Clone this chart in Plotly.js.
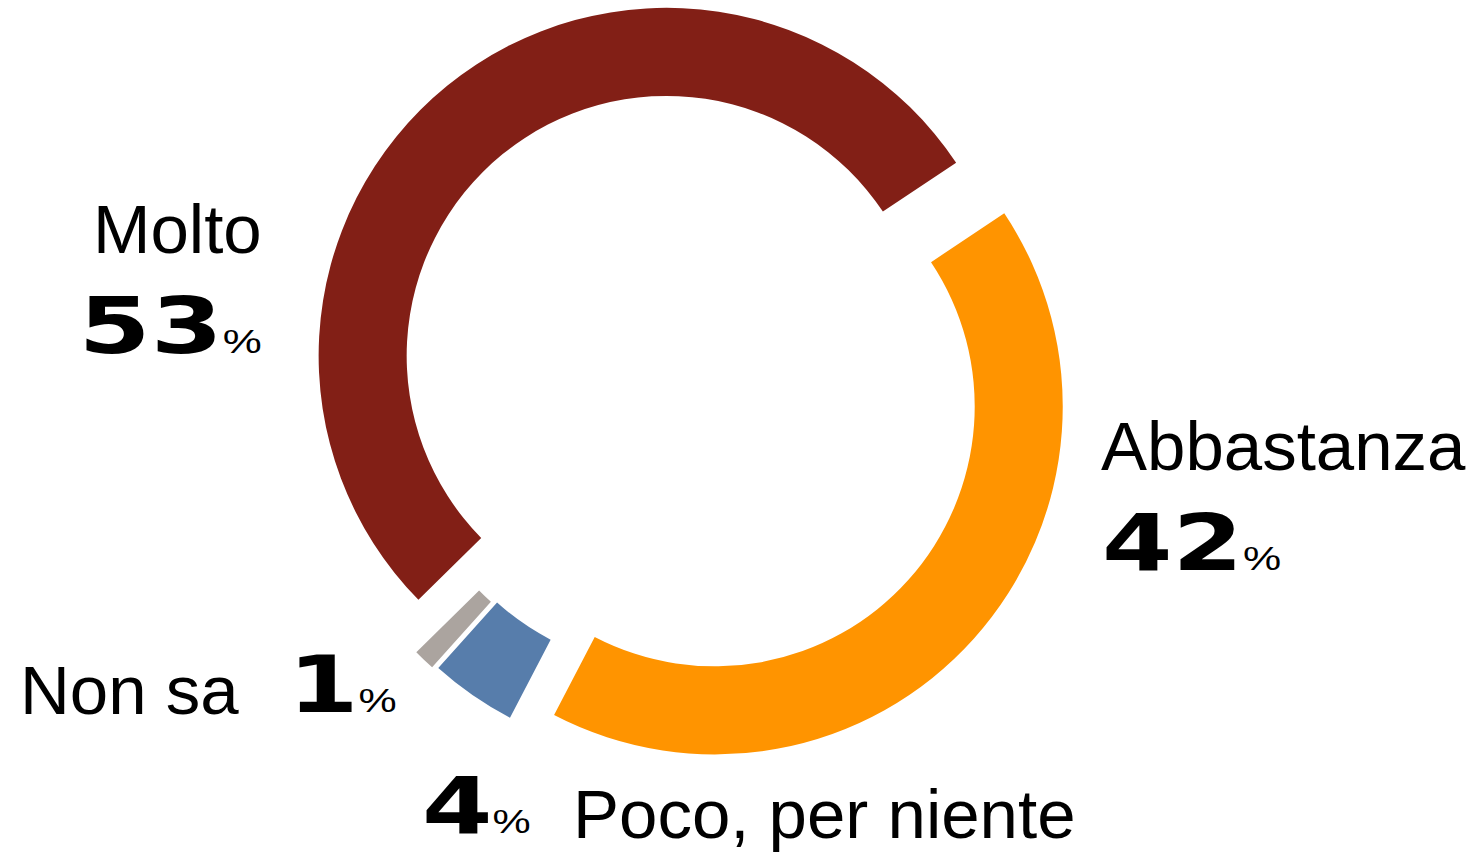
<!DOCTYPE html>
<html>
<head>
<meta charset="utf-8">
<script src="https://cdn.plot.ly/plotly-3.0.1.min.js"></script>
<style>
  html, body { margin: 0; padding: 0; background: #ffffff; }
  #chart { width: 1478px; height: 852px; }
  /* widen the heavy percentage figures (extended-style numerals) */
  g.annotation[data-index="1"] text.annotation-text {
    transform-box: fill-box; transform-origin: right center; transform: scaleX(1.33);
  }
  g.annotation[data-index="3"] text.annotation-text,
  g.annotation[data-index="5"] text.annotation-text,
  g.annotation[data-index="7"] text.annotation-text {
    transform-box: fill-box; transform-origin: left center; transform: scaleX(1.3);
  }
</style>
</head>
<body>
<div id="chart"></div>
<script>
// ---- data ----
const labels = ['Abbastanza', 'Poco, per niente', 'Non sa', 'Molto'];
const values = [42, 4, 1, 53];
const colors = ['#ff9400', '#577dab', '#aba49f', '#821f16'];

// ---- layout helpers (pixel -> paper) ----
const W = 1478, H = 852;
const px = x => x / W;
const py = y => 1 - y / H;

const nameFont = { family: 'Liberation Sans, Arial, sans-serif', size: 69, color: '#000000' };
const numFont = { family: 'DejaVu Sans, sans-serif', size: 78, color: '#000000', weight: 700 };
const pctStyle = 'font-family:Liberation Sans, Arial, sans-serif;font-weight:400;font-size:33px';

function pctText(v) {
  return '<b>' + v + '</b><span style="' + pctStyle + '">%</span>';
}

const placements = [
  { i: 3, nx: 264, ny: 229, na: 'right', vx: 264, vy: 326, va: 'right' },
  { i: 0, nx: 1099, ny: 446, na: 'left', vx: 1100, vy: 543, va: 'left' },
  { i: 2, nx: 18, ny: 690, na: 'left', vx: 286, vy: 685, va: 'left' },
  { i: 1, nx: 571, ny: 814, na: 'left', vx: 420, vy: 806, va: 'left' }
];

const annotations = [];
placements.forEach(p => {
  annotations.push({
    xref: 'paper', yref: 'paper', x: px(p.nx), y: py(p.ny),
    xanchor: p.na, yanchor: 'middle', showarrow: false,
    text: labels[p.i], font: nameFont
  });
  annotations.push({
    xref: 'paper', yref: 'paper', x: px(p.vx), y: py(p.vy),
    xanchor: p.va, yanchor: 'middle', showarrow: false,
    text: pctText(values[p.i]), font: numFont
  });
});

const trace = {
  type: 'pie',
  labels: labels,
  values: values,
  marker: { colors: colors, line: { width: 0 } },
  hole: 0.747,
  sort: false,
  direction: 'clockwise',
  rotation: 56.3,
  pull: [0.1006, 0.091, 0.1006, 0.1006],
  textinfo: 'none',
  hoverinfo: 'label+percent',
  showlegend: false,
  domain: { x: [305.7 / W, 1071.7 / W], y: [0.1009, 1] }
};

const layout = {
  width: W, height: H,
  margin: { l: 0, r: 0, t: 0, b: 0 },
  paper_bgcolor: '#ffffff',
  plot_bgcolor: '#ffffff',
  showlegend: false,
  annotations: annotations
};

Plotly.newPlot('chart', [trace], layout, { displayModeBar: false, staticPlot: true });
</script>
</body>
</html>
